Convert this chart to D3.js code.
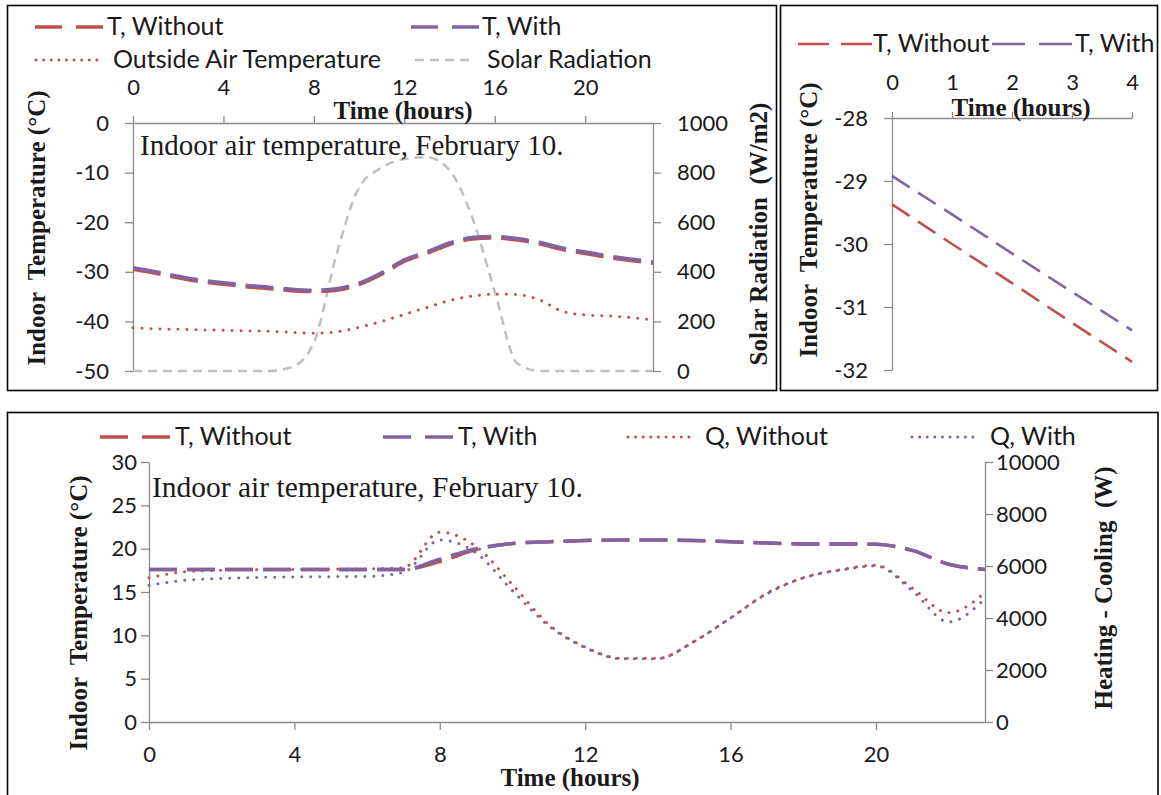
<!DOCTYPE html>
<html>
<head>
<meta charset="utf-8">
<script src="https://cdn.jsdelivr.net/npm/d3@7"></script>
<style>
  body { margin: 0; background: #fff; }
  svg text { font-family: Lato, "Open Sans", sans-serif; fill: #1a1a1a; }
  .tick text { font-size: 22px; }
  .axis path, .axis line { stroke: #8a8a8a; stroke-width: 1.3; }
  .serif { font-family: "Liberation Serif", "Times New Roman", serif; }
  .title { font-family: "Liberation Serif", "Times New Roman", serif; font-weight: bold; font-size: 25px; white-space: pre; }
  .legend { font-size: 25px; }
</style>
</head>
<body>
<svg id="chart" width="1161" height="795"></svg>
<script>
// hours of the day
const hours = [0, 1, 2, 3, 4, 5, 6, 7, 8, 9, 10, 11, 12, 13, 14, 15, 16, 17, 18, 19, 20, 21, 22, 23];
const hoursShort = [0, 1, 2, 3, 4];

// top left: winter day
const tWithoutCold = [-29.5, -30.3, -31.2, -32.0, -32.5, -33.0, -33.4, -33.8, -34.0, -33.7, -32.6, -30.5, -27.9, -26.3, -24.5, -23.4, -23.2, -23.6, -24.4, -25.5, -26.3, -27.1, -27.7, -28.3];
const tWithCold = [-29.2, -30.0, -30.9, -31.7, -32.2, -32.7, -33.1, -33.5, -33.7, -33.4, -32.3, -30.2, -27.6, -26.0, -24.2, -23.1, -22.9, -23.3, -24.1, -25.2, -26.0, -26.8, -27.4, -28.0];
const outsideAir = [-41.3, -41.5, -41.6, -41.7, -41.8, -41.9, -42.0, -42.2, -42.4, -42.1, -41.2, -40.0, -38.6, -37.2, -35.8, -34.9, -34.5, -34.6, -35.7, -38.0, -38.7, -38.9, -39.2, -39.7];
const solarRad = [0, 0, 0, 0, 0, 0, 0, 15, 115, 470, 740, 820, 855, 862, 810, 620, 320, 30, 0, 0, 0, 0, 0, 0];

// top right: first 4 hours
const tWithoutShort = [-29.37, -30.0, -30.62, -31.25, -31.87];
const tWithShort = [-28.92, -29.53, -30.15, -30.76, -31.37];

// bottom: heated day
const tWithoutDay = [17.6, 17.6, 17.6, 17.6, 17.6, 17.6, 17.6, 17.6, 18.5, 19.9, 20.6, 20.8, 20.95, 21.0, 21.0, 20.95, 20.8, 20.65, 20.55, 20.55, 20.5, 19.8, 18.2, 17.6];
const tWithDay = [17.6, 17.6, 17.6, 17.6, 17.6, 17.6, 17.6, 17.6, 18.8, 20.0, 20.6, 20.8, 20.95, 21.0, 21.0, 20.95, 20.8, 20.65, 20.55, 20.55, 20.5, 19.8, 18.2, 17.6];
const qWithout = [5550, 5780, 5840, 5860, 5870, 5880, 5890, 5930, 7300, 6750, 5280, 3750, 2880, 2450, 2450, 3100, 4000, 4950, 5550, 5850, 6030, 5150, 4200, 4980];
const qWith = [5260, 5450, 5520, 5560, 5580, 5590, 5600, 5750, 7000, 6500, 5050, 3700, 2860, 2430, 2440, 3100, 4000, 4930, 5540, 5840, 6000, 5050, 3850, 4750];

// tick values
const hourTicks = [0, 4, 8, 12, 16, 20];
const shortTicks = [0, 1, 2, 3, 4];
const coldTicks = [0, -10, -20, -30, -40, -50];
const solarTicks = [0, 200, 400, 600, 800, 1000];
const zoomTicks = [-28, -29, -30, -31, -32];
const dayTicks = [0, 5, 10, 15, 20, 25, 30];
const heatTicks = [0, 2000, 4000, 6000, 8000, 10000];

const RED = "#c0504d", PURPLE = "#8064a2", GREY = "#bfbfbf";
const caption = "Indoor air temperature, February 10.";

const svg = d3.select("#chart");
const fmt = d => String(d);

function drawLine(xs, ys, x, y, color, width, dash, curve) {
  svg.append("path")
    .datum(xs.map((h, i) => [h, ys[i]]))
    .attr("fill", "none")
    .attr("stroke", color)
    .attr("stroke-width", width)
    .attr("stroke-dasharray", dash)
    .attr("stroke-linecap", dash.startsWith("0.") ? "round" : "butt")
    .attr("d", d3.line().x(d => x(d[0])).y(d => y(d[1])).curve(curve));
}

// sample line, then its label at textX
function legendItem(x, y, w, textX, color, width, dash, label) {
  svg.append("line")
    .attr("x1", x).attr("x2", x + w).attr("y1", y).attr("y2", y)
    .attr("stroke", color).attr("stroke-width", width)
    .attr("stroke-dasharray", dash)
    .attr("stroke-linecap", dash.startsWith("0.") ? "round" : "butt");
  svg.append("text").attr("class", "legend")
    .attr("x", textX).attr("y", y + 8)
    .text(label);
}

function title(x, y, label, rotate) {
  svg.append("text").attr("class", "title")
    .attr("text-anchor", "middle")
    .attr("transform", `translate(${x},${y})` + (rotate ? " rotate(-90)" : ""))
    .text(label);
}

// panel frames
svg.append("rect").attr("x", 7.5).attr("y", 5.5).attr("width", 769).attr("height", 385)
  .attr("fill", "none").attr("stroke", "#000").attr("stroke-width", 1.6);
svg.append("rect").attr("x", 780.5).attr("y", 5.5).attr("width", 377).attr("height", 385)
  .attr("fill", "none").attr("stroke", "#000").attr("stroke-width", 1.6);
svg.append("rect").attr("x", 7.5).attr("y", 412.5).attr("width", 1150.5).attr("height", 390)
  .attr("fill", "none").attr("stroke", "#000").attr("stroke-width", 1.6);

//--> top left panel
const x1 = d3.scaleLinear().domain([0, 23]).range([133, 653]);
const y1 = d3.scaleLinear().domain([-50, 0]).range([371, 123]);
const yR1 = d3.scaleLinear().domain([0, 1000]).range([371, 123]);

svg.append("g").attr("class", "axis").attr("transform", "translate(0,123)")
  .call(d3.axisTop(x1).tickValues(hourTicks).tickFormat(fmt).tickSize(7).tickSizeOuter(0).tickPadding(21));
svg.append("g").attr("class", "axis").attr("transform", "translate(133,0)")
  .call(d3.axisLeft(y1).tickValues(coldTicks).tickFormat(fmt).tickSize(8).tickSizeOuter(0).tickPadding(16));
svg.append("g").attr("class", "axis").attr("transform", "translate(653,0)")
  .call(d3.axisRight(yR1).tickValues(solarTicks).tickFormat(fmt).tickSize(8).tickSizeOuter(0).tickPadding(16));

drawLine(hours, solarRad, x1, yR1, GREY, 2.5, "9 6", d3.curveMonotoneX);
drawLine(hours, outsideAir, x1, y1, RED, 3, "0.01 9", d3.curveMonotoneX);
drawLine(hours, tWithoutCold, x1, y1, RED, 3.5, "28 10", d3.curveMonotoneX);
drawLine(hours, tWithCold, x1, y1, PURPLE, 3.5, "28 10", d3.curveMonotoneX);

svg.append("text").attr("class", "serif").attr("x", 140).attr("y", 155)
  .attr("font-size", 29).text(caption);

legendItem(35, 27, 68, 107, RED, 3.5, "27 14", "T, Without");
legendItem(411, 27, 68, 482, PURPLE, 3.5, "27 14", "T, With");
legendItem(36, 60, 62, 113, RED, 3, "0.01 7.6", "Outside Air Temperature");
legendItem(415, 60, 56, 487, GREY, 2.5, "9 6", "Solar Radiation");

title(403, 119, "Time (hours)");
title(45, 228, "Indoor  Temperature (°C)", true);
title(767, 234, "Solar Radiation  (W/m2)", true);

//--> top right panel
const x2 = d3.scaleLinear().domain([0, 4]).range([892, 1132]);
const y2 = d3.scaleLinear().domain([-32, -28]).range([370, 118]);

svg.append("g").attr("class", "axis").attr("transform", "translate(0,118)")
  .call(d3.axisTop(x2).tickValues(shortTicks).tickFormat(fmt).tickSize(6).tickSizeOuter(0).tickPadding(22));
svg.append("g").attr("class", "axis").attr("transform", "translate(892,0)")
  .call(d3.axisLeft(y2).tickValues(zoomTicks).tickFormat(fmt).tickSize(8).tickSizeOuter(0).tickPadding(16));

drawLine(hoursShort, tWithoutShort, x2, y2, RED, 2.6, "21 10", d3.curveLinear);
drawLine(hoursShort, tWithShort, x2, y2, PURPLE, 2.6, "21 10", d3.curveLinear);

legendItem(798, 44, 74, 873, RED, 2.6, "31 12", "T, Without");
legendItem(992, 44, 80, 1075, PURPLE, 2.6, "33 14", "T, With");

title(1021, 116, "Time (hours)");
title(817, 220, "Indoor  Temperature (°C)", true);

//--> bottom panel
const x3 = d3.scaleLinear().domain([0, 23]).range([149, 985]);
const y3 = d3.scaleLinear().domain([0, 30]).range([722, 462]);
const yR3 = d3.scaleLinear().domain([0, 10000]).range([722, 462]);

svg.append("g").attr("class", "axis").attr("transform", "translate(0,722)")
  .call(d3.axisBottom(x3).tickValues(hourTicks).tickFormat(fmt).tickSize(8).tickSizeOuter(0).tickPadding(16));
svg.append("g").attr("class", "axis").attr("transform", "translate(149,0)")
  .call(d3.axisLeft(y3).tickValues(dayTicks).tickFormat(fmt).tickSize(8).tickSizeOuter(0).tickPadding(4));
svg.append("g").attr("class", "axis").attr("transform", "translate(985,0)")
  .call(d3.axisRight(yR3).tickValues(heatTicks).tickFormat(fmt).tickSize(8).tickSizeOuter(0).tickPadding(3));

drawLine(hours, qWithout, x3, yR3, RED, 3, "0.01 9", d3.curveMonotoneX);
drawLine(hours, qWith, x3, yR3, PURPLE, 3, "0.01 9", d3.curveMonotoneX);
drawLine(hours, tWithoutDay, x3, y3, RED, 3.5, "28 10", d3.curveMonotoneX);
drawLine(hours, tWithDay, x3, y3, PURPLE, 3.5, "28 10", d3.curveMonotoneX);

svg.append("text").attr("class", "serif").attr("x", 152).attr("y", 497)
  .attr("font-size", 29.5).text(caption);

legendItem(100, 437, 70, 175, RED, 3.5, "28 14", "T, Without");
legendItem(383, 437, 70, 458, PURPLE, 3.5, "28 14", "T, With");
legendItem(628, 437, 62, 705, RED, 3, "0.01 7.6", "Q, Without");
legendItem(912, 437, 62, 990, PURPLE, 3, "0.01 7.6", "Q, With");

title(570, 786, "Time (hours)");
title(87, 613, "Indoor  Temperature (°C)", true);
title(1112, 588, "Heating - Cooling  (W)", true);
</script>
</body>
</html>
